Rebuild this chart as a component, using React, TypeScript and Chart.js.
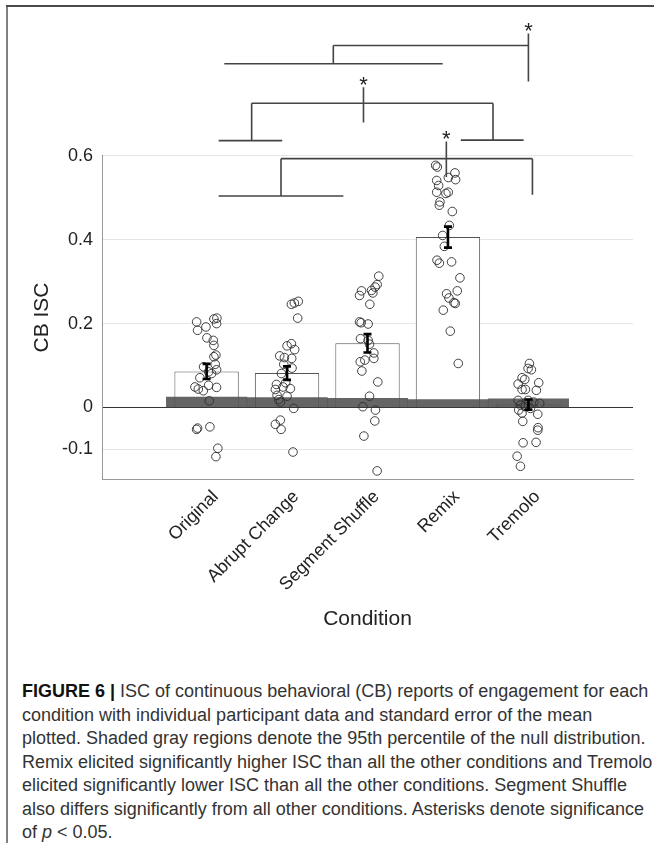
import React, { useEffect, useRef } from 'react';
import { Chart, registerables } from 'chart.js';

Chart.register(...registerables);

const FONT = '"Liberation Sans", Arial, Helvetica, sans-serif';

const categories = ['Original', 'Abrupt Change', 'Segment Shuffle', 'Remix', 'Tremolo'];
const categoryPositions = [1, 2, 3, 4, 5];
const meanISC = [0.086, 0.082, 0.153, 0.406, 0.007];
const semISC = [0.018, 0.016, 0.022, 0.025, 0.012];
const nullThreshold = [0.025, 0.024, 0.022, 0.019, 0.021];

const originalISC = [0.204, 0.184, 0.192, 0.211, 0.213, 0.2, 0.166, 0.16, 0.148, 0.125, 0.121, 0.097, 0.103, 0.09, 0.071, 0.081, 0.049, 0.044, 0.04, 0.053, 0.048, 0.016, -0.052, -0.049, -0.046, -0.097, -0.117, 0.085];
const originalJitter = [-0.124, -0.112, -0.008, 0.091, 0.128, 0.124, 0.004, 0.083, 0.091, 0.116, 0.091, -0.037, 0.107, 0.124, -0.083, 0.062, -0.145, -0.103, -0.041, 0.025, 0.124, 0.033, -0.124, -0.112, 0.041, 0.14, 0.116, 0.025];

const abruptISC = [0.246, 0.249, 0.253, 0.213, 0.147, 0.152, 0.138, 0.123, 0.119, 0.117, 0.103, 0.094, 0.081, 0.055, 0.043, 0.049, 0.045, 0.029, 0.027, 0.019, 0.013, -0.002, -0.03, -0.04, -0.052, -0.106, 0.059];
const abruptJitter = [0.054, 0.091, 0.14, 0.132, 0, 0.054, 0.095, -0.091, -0.033, 0.058, -0.041, 0.062, -0.07, -0.132, -0.145, -0.05, 0.041, -0.124, 0, -0.103, -0.083, 0.083, -0.083, -0.145, -0.074, 0.074, -0.017];

const segmentISC = [0.313, 0.293, 0.287, 0.279, 0.278, 0.267, 0.273, 0.246, 0.204, 0.202, 0.199, 0.164, 0.16, 0.151, 0.13, 0.113, 0.117, 0.087, 0.061, 0.027, 0.002, -0.006, -0.032, -0.068, -0.151, 0.109];
const segmentJitter = [0.14, 0.12, 0.095, 0.05, -0.074, -0.099, 0.066, 0.029, -0.099, -0.079, 0.008, -0.087, 0.008, 0.025, 0.079, -0.033, 0.079, -0.07, 0.128, 0.025, -0.058, 0.099, 0.091, -0.045, 0.12, -0.09];

const remixISC = [0.577, 0.573, 0.559, 0.543, 0.548, 0.541, 0.529, 0.513, 0.513, 0.51, 0.49, 0.482, 0.467, 0.434, 0.41, 0.384, 0.351, 0.344, 0.347, 0.309, 0.278, 0.271, 0.261, 0.248, 0.25, 0.232, 0.182, 0.105];
const remixJitter = [-0.153, -0.132, 0.087, 0.095, 0.004, -0.14, -0.116, -0.14, 0.004, -0.025, -0.099, -0.107, 0.054, 0.017, -0.066, -0.045, -0.136, -0.107, 0.045, 0.149, 0.116, -0.017, 0.012, 0.091, 0.074, -0.058, 0.029, 0.128];

const tremoloISC = [0.105, 0.093, 0.09, 0.071, 0.067, 0.059, 0.056, 0.043, 0.043, 0.041, 0.017, 0.017, 0.013, 0.01, 0.006, 0.002, -0.002, -0.006, -0.013, -0.016, -0.033, -0.048, -0.054, -0.084, -0.083, -0.116, -0.14];
const tremoloJitter = [0.012, -0.004, 0.037, -0.079, -0.045, 0.128, -0.128, -0.079, -0.037, 0.099, -0.128, -0.004, 0.066, 0.14, -0.099, -0.037, 0.025, -0.12, -0.079, 0.116, -0.07, 0.12, 0.116, -0.066, 0.095, -0.14, -0.099];

const participantISC = [originalISC, abruptISC, segmentISC, remixISC, tremoloISC];
const participantJitter = [originalJitter, abruptJitter, segmentJitter, remixJitter, tremoloJitter];

const yTickValues = [-0.1, 0, 0.2, 0.4, 0.6];
const yTickLabels = ['-0.1', '0', '0.2', '0.4', '0.6'];

// significance brackets in data units: [x1, y1, x2, y2]
const bracketSegments = [
  [2.575, 0.8626, 5.0, 0.8626],
  [5.0, 0.891, 5.0, 0.777],
  [2.575, 0.8626, 2.575, 0.819],
  [1.22, 0.819, 3.935, 0.819],
  [2.95, 0.763, 2.95, 0.679],
  [1.56, 0.725, 4.56, 0.725],
  [1.56, 0.725, 1.56, 0.636],
  [4.56, 0.725, 4.56, 0.636],
  [1.15, 0.636, 1.94, 0.636],
  [4.16, 0.637, 4.94, 0.637],
  [3.98, 0.634, 3.98, 0.549],
  [1.925, 0.593, 5.05, 0.593],
  [1.925, 0.593, 1.925, 0.504],
  [5.05, 0.593, 5.05, 0.507],
  [1.15, 0.504, 2.7, 0.504],
];
const asteriskMarks = [
  [5.0, 0.906],
  [2.95, 0.779],
  [3.98, 0.65],
];

const captionLines = [
  'condition with individual participant data and standard error of the mean',
  'plotted. Shaded gray regions denote the 95th percentile of the null distribution.',
  'Remix elicited significantly higher ISC than all the other conditions and Tremolo',
  'elicited significantly lower ISC than all the other conditions. Segment Shuffle',
  'also differs significantly from all other conditions. Asterisks denote significance',
];

const annotationPlugin = {
  id: 'iscAnnotations',
  afterDatasetsDraw(chart: any) {
    const { ctx } = chart;
    const xs = chart.scales.x;
    const ys = chart.scales.y;
    ctx.save();
    ctx.strokeStyle = '#000';
    ctx.lineWidth = 2.6;
    meanISC.forEach((m, i) => {
      const px = xs.getPixelForValue(categoryPositions[i]);
      const t = ys.getPixelForValue(m + semISC[i]);
      const b = ys.getPixelForValue(m - semISC[i]);
      ctx.beginPath();
      ctx.moveTo(px, t);
      ctx.lineTo(px, b);
      ctx.moveTo(px - 4, t);
      ctx.lineTo(px + 4, t);
      ctx.moveTo(px - 4, b);
      ctx.lineTo(px + 4, b);
      ctx.stroke();
    });
    ctx.restore();
  },
  afterDraw(chart: any) {
    const { ctx } = chart;
    const xs = chart.scales.x;
    const ys = chart.scales.y;
    ctx.save();
    ctx.strokeStyle = '#444';
    ctx.lineWidth = 1.6;
    ctx.beginPath();
    bracketSegments.forEach(([x1, y1, x2, y2]) => {
      ctx.moveTo(xs.getPixelForValue(x1), ys.getPixelForValue(y1));
      ctx.lineTo(xs.getPixelForValue(x2), ys.getPixelForValue(y2));
    });
    ctx.stroke();
    ctx.fillStyle = '#222';
    ctx.font = `22px ${FONT}`;
    ctx.textAlign = 'center';
    ctx.textBaseline = 'alphabetic';
    const m = ctx.measureText('*');
    const asc = m.actualBoundingBoxAscent || 15;
    const desc = m.actualBoundingBoxDescent || -8;
    asteriskMarks.forEach(([ax, ay]) => {
      const cx = xs.getPixelForValue(ax);
      const cy = ys.getPixelForValue(ay);
      ctx.fillText('*', cx, cy + (asc - desc) / 2);
    });
    ctx.restore();
  },
};

function ISCChart() {
  const canvasRef = useRef<HTMLCanvasElement | null>(null);

  useEffect(() => {
    const canvas = canvasRef.current;
    if (!canvas) return;
    const scatterData = participantISC.flatMap((vals, i) =>
      vals.map((v, j) => ({ x: categoryPositions[i] + participantJitter[i][j], y: v }))
    );
    const chart = new Chart(canvas, {
      type: 'bar',
      data: {
        datasets: [
          {
            type: 'scatter',
            data: scatterData,
            pointRadius: 4.3,
            pointBackgroundColor: 'rgba(0,0,0,0)',
            pointBorderColor: '#2e2e2e',
            pointBorderWidth: 0.9,
            order: 1,
          } as any,
          {
            type: 'bar',
            data: categoryPositions.map((x, i) => ({ x, y: nullThreshold[i] })),
            backgroundColor: 'rgba(80,80,80,0.88)',
            borderWidth: 0,
            barPercentage: 1,
            categoryPercentage: 1,
            grouped: false,
            order: 2,
          },
          {
            type: 'bar',
            data: categoryPositions.map((x, i) => ({ x, y: meanISC[i] })),
            backgroundColor: '#ffffff',
            borderColor: '#555',
            borderWidth: 1,
            barPercentage: 0.8,
            categoryPercentage: 1,
            grouped: false,
            order: 3,
          },
        ],
      },
      options: {
        responsive: false,
        animation: false,
        devicePixelRatio: 1,
        layout: { padding: { left: 0, top: 155.7, right: 21, bottom: 0 } },
        plugins: { legend: { display: false }, tooltip: { enabled: false } },
        scales: {
          x: {
            type: 'linear',
            min: -0.3,
            max: 6.3,
            bounds: 'data',
            offset: false,
            afterBuildTicks: (s: any) => {
              s.ticks = categoryPositions.map((v) => ({ value: v }));
            },
            afterFit: (s: any) => {
              s.height = 180.7;
            },
            ticks: {
              autoSkip: false,
              maxRotation: 45,
              minRotation: 45,
              padding: 7,
              labelOffset: 9,
              color: '#222',
              font: { family: FONT, size: 18 },
              callback: (v: any) => {
                const idx = categoryPositions.indexOf(v);
                return idx >= 0 ? categories[idx] : '';
              },
            },
            grid: { display: false, drawTicks: false, offset: false },
            border: { display: true, color: '#999', width: 1 },
            title: {
              display: true,
              text: 'Condition',
              color: '#222',
              font: { family: FONT, size: 21 },
              padding: { top: 0, bottom: 28 },
            },
          },
          y: {
            type: 'linear',
            min: -0.171,
            max: 0.6,
            bounds: 'data',
            afterBuildTicks: (s: any) => {
              s.ticks = yTickValues.map((v) => ({ value: v }));
            },
            afterFit: (s: any) => {
              s.width = 102;
            },
            ticks: {
              padding: 9,
              color: '#222',
              font: { family: FONT, size: 18 },
              callback: (v: any) => {
                const idx = yTickValues.indexOf(v);
                return idx >= 0 ? yTickLabels[idx] : '';
              },
            },
            grid: {
              drawTicks: false,
              color: (c: any) => (c.tick && c.tick.value === 0 ? '#333' : '#e6e6e6'),
              lineWidth: 1,
            },
            border: { display: true, color: '#999', width: 1 },
            title: {
              display: true,
              text: 'CB ISC',
              color: '#222',
              font: { family: FONT, size: 21 },
              padding: { top: 30, bottom: 0 },
            },
          },
        },
      } as any,
      plugins: [annotationPlugin],
    });
    return () => chart.destroy();
  }, []);

  return (
    <canvas
      ref={canvasRef}
      width={654}
      height={660}
      style={{ position: 'absolute', left: 0, top: 0, width: 654, height: 660 }}
    />
  );
}

export default function App() {
  return (
    <div
      style={{
        position: 'absolute',
        left: 0,
        top: 0,
        width: 654,
        height: 843,
        background: '#fff',
        overflow: 'hidden',
        fontFamily: FONT,
      }}
    >
      <ISCChart />
      <div style={{ position: 'absolute', left: 6, top: 5, width: 2, height: 838, background: '#808080' }} />
      <div style={{ position: 'absolute', left: 6, top: 5, width: 648, height: 2, background: '#4a4a4a' }} />
      <div
        style={{
          position: 'absolute',
          left: 22,
          top: 680,
          fontSize: 18,
          lineHeight: '23.5px',
          color: '#333',
          whiteSpace: 'nowrap',
        }}
      >
        <div>
          <b style={{ color: '#111' }}>FIGURE 6 |</b> ISC of continuous behavioral (CB) reports of engagement for each
        </div>
        {captionLines.map((l) => (
          <div key={l}>{l}</div>
        ))}
        <div>
          of <i>p</i> &lt; 0.05.
        </div>
      </div>
    </div>
  );
}
